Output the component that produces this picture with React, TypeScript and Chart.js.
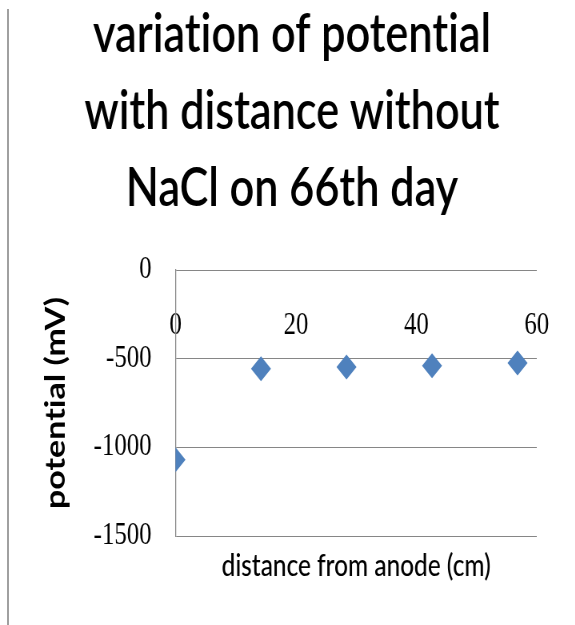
import React, { useEffect, useRef } from "react";
import { Chart, registerables } from "chart.js";

Chart.register(...registerables);

// ---- data ----
const distances = [0, 14.2, 28.4, 42.6, 56.8];
const potentials = [-1070, -557, -547, -540, -525];
const xTickValues = [0, 20, 40, 60];
const yTickValues = [0, -500, -1000, -1500];
const titleLines = ["variation of potential", "with distance without", "NaCl on 66th day"];
const xTitle = "distance from anode (cm)";
const yTitle = "potential (mV)";

// the reference is horizontally squeezed; draw wider and compress
const SQUEEZE = 0.8;
const W = 699;
const H = 609;

const noLigatures = {
  id: "noLigatures",
  beforeUpdate(chart: any) {
    chart.ctx.textRendering = "optimizeSpeed";
  },
  beforeDraw(chart: any) {
    chart.ctx.textRendering = "optimizeSpeed";
  },
};

export default function App() {
  const ref = useRef<HTMLCanvasElement>(null);

  useEffect(() => {
    const canvas = ref.current;
    if (!canvas) return;
    const chart = new Chart(canvas, {
      type: "scatter",
      plugins: [noLigatures],
      data: {
        datasets: [
          {
            data: distances.map((x, i) => ({ x, y: potentials[i] })),
            pointStyle: "rectRot",
            pointRadius: 12.5,
            pointHoverRadius: 12.5,
            backgroundColor: "#4F81BD",
            borderColor: "#4F81BD",
            borderWidth: 0,
            xAxisID: "x",
            yAxisID: "y",
          },
        ],
      },
      options: {
        animation: false,
        responsive: false,
        events: [],
        layout: { padding: { left: 49, right: 38, top: 0, bottom: 0 } },
        plugins: {
          legend: { display: false },
          tooltip: { enabled: false },
          title: {
            display: true,
            text: titleLines,
            color: "#000",
            font: { family: "Lato", size: 54, weight: 600, lineHeight: "77px" },
            padding: { top: -12, bottom: 43 },
          },
        },
        scales: {
          x: {
            type: "linear",
            position: { y: 0 } as any,
            min: 0,
            max: 60,
            afterBuildTicks: (s: any) => {
              s.ticks = xTickValues.map((v) => ({ value: v }));
            },
            afterFit: (s: any) => {
              s.height = 0;
              s.paddingLeft = 0;
              s.paddingRight = 0;
            },
            grid: { display: false, drawTicks: false },
            border: { display: false },
            ticks: {
              padding: 37,
              color: "#000",
              font: { family: "Liberation Serif", size: 31 },
              maxRotation: 0,
              autoSkip: false,
              callback: (v: any) => String(v),
            },
          },
          x2: {
            type: "linear",
            position: "bottom",
            min: 0,
            max: 60,
            afterFit: (s: any) => {
              s.height = 81;
            },
            grid: { display: false, drawTicks: false },
            border: { display: false },
            ticks: { display: false },
            title: {
              display: true,
              text: xTitle,
              color: "#000",
              font: { family: "Lato", size: 30.5, weight: 500 },
              padding: { top: 4, bottom: 33 },
            },
          },
          y: {
            type: "linear",
            position: "left",
            min: -1500,
            max: 0,
            afterBuildTicks: (s: any) => {
              s.ticks = yTickValues.map((v) => ({ value: v }));
            },
            afterFit: (s: any) => {
              s.width = 160.4;
            },
            grid: { color: "#868686", lineWidth: 1, drawTicks: false },
            border: { display: true, color: "#868686", width: 1.25 },
            ticks: {
              padding: 30,
              color: "#000",
              font: { family: "Liberation Serif", size: 31 },
              autoSkip: false,
              callback: (v: any) => String(v),
            },
            title: {
              display: true,
              text: yTitle,
              color: "#000",
              font: { family: "Lato", size: 34, weight: "bold", lineHeight: 0.6 },
              padding: { top: 1, bottom: 0 },
            },
          },
        },
      },
    });
    return () => chart.destroy();
  }, []);

  return (
    <>
      <div style={{ position: "relative", width: Math.round(W * SQUEEZE), height: H, overflow: "hidden" }}>
        <div style={{ width: W, height: H, transform: `scaleX(${SQUEEZE})`, transformOrigin: "0 0" }}>
          <canvas ref={ref} width={W} height={H} style={{ display: "block" }} />
        </div>
      </div>
      <div
        style={{
          position: "fixed",
          left: 7,
          top: 9,
          bottom: 0,
          width: 2,
          background: "#a0a0a0",
        }}
      />
    </>
  );
}
